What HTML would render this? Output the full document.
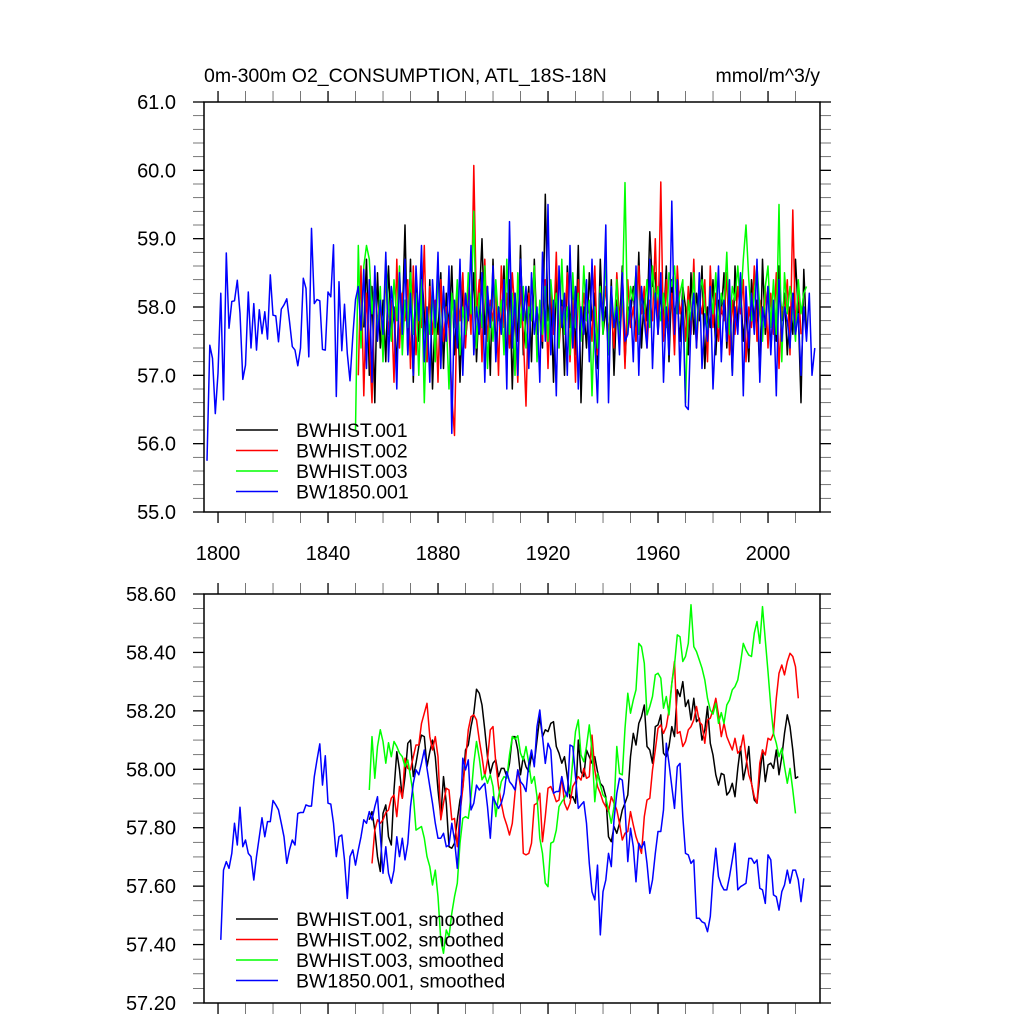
<!DOCTYPE html>
<html><head><meta charset="utf-8"><style>
html,body{margin:0;padding:0;background:#fff}
svg{display:block;font-family:"Liberation Sans",Arial,sans-serif}
</style></head><body>
<svg id="chart" width="1024" height="1024" viewBox="0 0 1024 1024">
<rect width="1024" height="1024" fill="#fff"/>
<text x="204" y="82" font-size="19.5">0m-300m O2_CONSUMPTION, ATL_18S-18N</text>
<text x="820" y="82" font-size="19.5" text-anchor="end">mmol/m^3/y</text>
<g id="top"></g>
<g id="bot"></g>
</svg>
<script>
// ---------- data ----------
const xTickYears = [1800,1840,1880,1920,1960,2000];
const topYTicks = [55,56,57,58,59,60,61];
const botYTicks = [57.2,57.4,57.6,57.8,58.0,58.2,58.4,58.6];
const seriesNames = ["BWHIST.001","BWHIST.002","BWHIST.003","BW1850.001"];
const seriesColors = ["#000","#f00","#0f0","#00f"];

const topBlackStart = 1853;
const topBlack = [57.7,58.7,57.0,58.3,56.6,58.5,57.4,58.1,57.2,58.6,
57.6,58.0,57.1,58.4,57.8,59.2,57.3,58.7,56.9,58.3,
57.5,58.6,57.9,57.2,58.4,56.8,58.0,57.6,58.5,57.1,
58.2,57.7,58.6,57.3,58.1,56.9,58.4,57.5,58.0,57.8,
58.5,57.2,58.1,59.0,57.6,58.3,57.0,58.7,57.4,58.0,
57.7,58.6,57.1,58.4,56.8,58.2,57.5,58.9,57.3,57.9,
58.3,57.2,58.7,57.6,58.0,57.4,59.65,57.8,58.2,56.9,
58.5,57.5,58.1,57.0,58.6,57.7,58.3,57.3,58.9,56.6,
58.0,57.4,58.5,57.8,58.2,57.1,58.7,57.6,58.0,57.3,
58.4,57.0,58.1,57.7,58.6,57.2,58.0,57.9,58.3,57.5,
58.8,57.4,58.2,57.8,59.1,58.3,58.5,57.6,58.2,57.7,
58.6,57.2,58.4,57.9,58.1,57.5,58.3,58.0,57.3,58.5,
57.6,58.2,57.8,58.6,57.1,58.0,57.7,58.4,57.3,58.1,
57.9,58.5,57.4,58.2,57.0,58.6,57.7,58.3,57.5,58.0,
57.2,58.4,57.8,58.1,57.0,58.7,57.6,58.3,57.4,58.0,
57.5,58.6,57.8,58.2,57.3,58.0,57.6,58.7,57.9,56.6,
58.55,57.6];
const topRedStart = 1851;
const topRed = [57.0,58.6,56.7,58.2,57.5,56.6,58.4,57.8,58.0,57.3,
58.5,57.6,58.1,56.9,58.7,57.4,58.2,57.8,58.4,57.1,
58.6,57.3,58.0,57.7,58.9,57.2,58.3,57.6,58.1,56.9,
58.4,57.5,58.0,57.7,56.7,56.12,58.2,57.8,58.5,57.4,
58.3,57.6,60.07,57.9,58.4,57.2,58.7,57.5,58.1,57.8,
58.3,57.0,58.6,57.7,58.2,57.4,58.5,57.9,56.9,58.3,
57.6,56.55,58.2,57.8,58.6,57.3,58.0,57.5,58.4,57.1,
58.3,57.6,58.8,57.4,58.0,57.7,58.5,57.2,58.1,56.9,
58.4,57.6,58.2,57.8,58.0,57.5,58.6,57.3,58.1,57.9,
58.3,57.6,58.0,57.4,58.5,57.8,58.2,57.1,58.4,57.7,
58.0,57.5,58.6,57.9,58.3,57.4,58.1,57.8,59.0,57.6,
59.83,57.5,58.4,57.8,58.2,57.3,58.6,57.9,58.1,57.5,
58.3,57.6,58.7,57.4,58.1,57.9,58.4,57.2,58.6,57.7,
58.2,57.5,58.0,57.8,58.5,57.3,58.1,57.6,58.3,57.9,
58.4,57.2,58.0,57.7,58.6,57.5,58.1,57.8,58.3,57.4,
58.2,57.6,58.5,57.1,58.0,57.9,58.4,57.3,59.42,57.7,
58.3,57.6];
const topGreenStart = 1850;
const topGreen = [56.2,58.9,57.4,58.6,58.9,58.7,57.9,58.4,57.6,58.3,
57.2,58.7,58.0,57.5,58.4,57.8,58.6,57.3,58.1,57.7,
58.5,57.6,58.2,57.0,58.4,56.6,58.0,57.6,58.3,57.2,
58.6,57.5,58.1,57.8,56.8,58.2,57.7,58.4,57.3,58.0,
57.6,58.5,57.9,59.4,57.4,58.2,57.7,58.6,57.1,58.0,
57.5,58.4,57.8,58.1,57.3,58.7,57.6,58.2,57.0,58.5,
57.7,58.3,57.4,58.0,57.8,58.6,57.2,58.1,57.6,58.3,
57.5,58.4,57.9,58.2,57.4,58.7,57.6,58.0,57.3,58.5,
57.7,58.2,57.5,58.6,57.8,58.1,56.7,58.0,57.4,58.3,
57.6,58.8,57.3,58.2,57.7,58.4,57.5,58.1,59.82,57.6,
58.3,58.1,58.5,57.6,58.2,57.9,58.4,57.7,58.6,58.0,
58.3,57.8,58.2,57.7,58.5,58.3,58.6,57.9,58.2,58.4,
56.6,58.1,57.8,58.5,57.5,58.2,58.4,58.0,57.6,58.3,
57.9,58.5,57.7,58.2,58.0,58.8,57.6,58.3,58.1,58.6,
58.0,58.7,59.2,58.4,57.8,58.2,58.6,58.0,57.5,58.3,
58.6,57.7,58.4,57.6,59.5,57.2,58.5,57.9,58.3,58.0,
57.5,58.4,57.9,58.2,58.3];
const topBlueStart = 1796;
const topBlue = [55.75,57.44,57.25,56.44,57.03,58.20,56.64,58.79,57.69,58.08,
58.09,58.39,57.91,56.94,57.15,58.22,57.40,58.05,57.37,57.96,
57.61,57.93,57.53,58.47,57.88,57.87,57.49,57.97,58.03,58.12,
57.79,57.42,57.37,57.14,57.40,58.42,58.27,57.27,59.15,58.05,
58.11,58.09,57.38,57.37,58.22,58.15,58.91,56.69,58.37,57.36,
58.04,57.32,56.92,57.57,58.11,58.30,57.66,
58.55,57.1,58.4,56.9,58.6,57.5,58.1,57.6,58.8,57.2,
58.3,57.9,56.8,58.5,57.6,58.7,57.3,58.2,57.0,58.6,
57.8,58.9,57.2,58.0,56.9,58.4,57.7,58.8,57.1,58.3,
57.5,58.6,56.15,58.1,57.4,58.7,57.0,58.2,57.8,58.9,
57.3,58.0,57.6,58.5,56.9,58.3,57.7,58.6,57.2,58.0,
57.6,58.4,56.8,59.25,57.4,58.2,57.0,58.7,57.8,58.3,
57.1,58.5,57.6,58.0,56.9,58.8,57.5,59.5,57.3,58.1,
56.7,58.6,57.7,58.2,57.0,58.9,57.4,58.3,56.8,58.0,
57.6,58.4,57.2,58.7,57.5,56.6,58.2,57.8,59.2,56.6,
58.3,57.7,58.0,57.3,58.5,57.5,57.6,58.1,57.2,58.6,
57.0,58.3,57.8,57.4,58.7,57.1,58.2,57.6,58.5,56.9,
58.0,57.3,59.55,57.6,58.4,57.0,58.1,56.55,56.5,57.8,
58.2,57.4,58.5,57.1,57.9,57.5,58.3,56.8,57.7,58.6,
57.2,58.1,57.5,58.4,57.0,58.0,57.6,58.5,56.7,58.3,
57.4,58.2,57.6,58.7,56.9,58.0,57.7,58.3,57.3,58.1,
56.7,58.4,57.5,58.0,57.8,57.4,58.2,57.6,57.9,57.0,
58.0,57.5,58.2,57.0,57.4];

const botBlackStart = 1855;
const botBlack = [57.827,57.855,57.792,57.701,57.650,57.849,57.878,57.769,57.741,57.929,
58.060,57.998,57.901,57.975,58.089,58.100,57.975,58.021,58.078,58.117,
58.112,58.009,58.060,58.100,58.043,57.929,57.838,57.975,57.884,57.735,
57.730,57.747,57.827,57.895,57.935,58.066,58.083,58.146,58.192,58.274,
58.260,58.220,58.135,58.043,57.986,58.021,58.032,57.975,58.003,58.003,
57.975,58.021,58.112,58.112,58.066,57.981,
58.043,58.009,57.992,58.049,58.021,58.100,58.180,58.112,58.135,58.129,
58.157,58.163,58.078,58.055,58.021,58.043,57.975,57.901,57.906,57.884,
58.100,57.992,57.975,58.066,58.043,58.021,58.043,57.992,57.952,57.941,
57.906,57.769,57.752,57.804,57.781,57.815,57.861,57.884,57.912,58.043,
58.123,58.083,58.157,58.180,58.220,58.078,58.066,58.021,58.146,58.152,
58.186,58.055,58.043,58.078,58.146,58.112,58.272,58.249,58.300,58.215,
58.237,58.169,58.243,58.163,58.175,58.100,58.135,58.215,58.089,58.049,
57.981,57.946,57.986,57.981,57.912,57.924,57.952,57.906,58.003,58.078,
57.964,58.009,58.078,57.952,57.895,57.884,57.975,58.066,57.958,58.015,
58.021,58.003,58.066,57.981,58.043,58.123,58.186,58.146,58.066,57.969,57.975];
const botRedStart = 1856;
const botRed = [57.678,57.792,57.827,57.815,57.827,57.852,57.861,57.901,57.912,57.838,
57.941,57.901,58.038,58.003,57.998,58.043,58.083,58.083,58.157,58.192,
58.226,58.112,58.066,58.112,58.043,57.827,57.884,57.935,57.929,57.827,
57.832,57.735,57.849,57.935,58.032,58.135,58.180,58.186,58.169,58.100,
58.043,57.975,58.032,58.135,58.146,58.021,57.941,57.884,57.838,57.809,
57.775,57.815,57.918,57.998,57.941,
57.712,57.707,57.712,57.747,57.878,57.884,57.918,57.752,57.838,57.935,
57.941,57.918,57.889,57.895,57.975,57.884,57.861,57.884,57.941,
57.958,57.975,57.963,58.003,57.969,57.975,58.117,57.998,57.941,57.918,
57.889,57.872,57.855,57.906,57.884,57.861,57.815,57.758,57.781,
57.787,57.855,57.809,57.769,57.741,57.712,57.838,57.895,57.901,57.998,
58.066,58.140,58.152,58.123,58.146,58.203,58.294,58.369,58.123,58.129,
58.078,58.095,58.135,58.146,58.169,58.215,58.163,58.152,58.089,
58.169,58.175,58.203,58.243,58.186,58.112,58.157,58.112,58.089,58.066,
58.106,58.055,58.066,58.117,58.043,57.981,57.952,57.906,57.884,58.021,
58.066,58.049,58.106,58.100,58.123,58.243,58.329,58.357,58.323,58.369,
58.397,58.386,58.351,58.243];
const botGreenStart = 1855;
const botGreen = [57.929,58.112,57.969,58.078,58.135,58.095,58.021,58.091,58.043,58.095,
58.078,58.055,58.043,58.009,58.032,57.975,57.912,57.792,57.798,57.804,
57.764,57.701,57.667,57.604,57.655,57.564,57.416,57.370,57.450,57.427,
57.507,57.564,57.610,57.747,57.832,57.838,57.832,57.906,58.021,58.095,
58.038,57.964,57.981,57.952,57.981,57.941,57.838,57.906,57.958,57.975,
57.969,58.049,58.112,58.103,58.115,58.055,
58.032,58.078,58.021,57.952,57.975,57.906,57.764,57.712,57.610,57.598,
57.747,57.752,57.792,57.872,57.889,57.901,57.924,57.918,58.032,58.129,
58.169,58.049,58.026,58.078,58.152,58.066,57.889,57.986,57.946,57.912,
57.901,57.861,57.815,57.872,58.078,57.986,57.981,58.140,58.260,58.192,
58.237,58.272,58.431,58.420,58.363,58.186,58.215,58.249,58.323,58.329,
58.312,58.209,58.249,58.186,58.294,58.357,58.460,58.454,58.369,
58.386,58.431,58.563,58.420,58.403,58.374,58.346,58.306,58.243,
58.203,58.189,58.226,58.157,58.194,58.157,58.220,58.237,58.272,
58.283,58.306,58.363,58.431,58.408,58.391,58.386,58.466,58.506,
58.431,58.557,58.443,58.334,58.215,58.123,58.089,58.043,58.072,58.009,
57.952,58.003,57.929,57.849];
const botBlueStart = 1801;
const botBlue = [57.416,57.655,57.684,57.661,57.712,57.815,57.741,57.870,57.735,57.758,
57.712,57.701,57.621,57.701,57.769,57.834,57.769,57.821,57.821,57.893,57.878,
57.861,57.815,57.769,57.678,57.724,57.758,57.741,57.849,57.852,57.852,57.878,
57.874,57.874,57.975,58.032,58.087,57.946,58.046,57.884,57.881,57.815,57.701,
57.769,57.775,57.690,57.558,57.701,57.724,57.672,57.724,57.769,57.827,
57.815,57.855,57.827,57.872,57.906,57.775,57.644,57.735,57.644,57.610,
57.655,57.769,57.701,57.764,57.690,57.747,57.872,57.952,57.998,57.981,
58.021,58.066,58.003,57.941,57.884,57.815,57.764,57.764,57.781,57.735,
57.741,57.815,57.758,57.661,57.815,58.038,57.998,58.032,57.861,57.884,
57.946,57.929,57.941,57.952,57.872,57.764,57.906,57.884,57.866,57.884,
57.918,57.992,57.958,57.946,57.929,57.998,57.958,57.946,57.924,58.020,
58.066,58.009,58.146,58.203,58.112,58.020,58.089,58.066,57.918,57.924,
57.924,57.975,57.929,57.906,58.083,58.078,57.975,57.866,57.878,57.889,
57.815,57.678,57.581,57.553,57.672,57.433,57.581,57.621,57.712,57.667,
57.827,57.918,57.969,57.963,57.872,57.684,57.798,57.735,57.615,57.747,
57.730,57.752,57.678,57.575,57.621,57.712,57.787,57.787,57.861,58.089,
58.020,57.941,57.866,58.009,58.020,57.838,57.712,57.707,57.678,57.690,
57.490,57.490,57.478,57.473,57.444,57.496,57.633,57.730,57.633,57.604,
57.587,57.587,57.633,57.690,57.747,57.587,57.598,57.604,57.610,57.695,
57.695,57.678,57.690,57.593,57.587,57.541,57.707,57.690,57.570,57.564,
57.518,57.581,57.604,57.655,57.610,57.655,57.655,57.621,57.547,57.627];

// ---------- drawing ----------
const NS = "http://www.w3.org/2000/svg";
const L = 204, R = 820;
const X0 = 1794.9, X1 = 2018.9;
function xs(yr){ return L + (yr - X0) / (X1 - X0) * (R - L); }
function mk(tag, attrs, parent){
  const e = document.createElementNS(NS, tag);
  for (const k in attrs) e.setAttribute(k, attrs[k]);
  parent.appendChild(e);
  return e;
}
function panel(g, T, B, ymin, ymax, yMajor, nMinor, fmt, showX, series, legendY, suffix){
  const ys = v => B - (v - ymin) / (ymax - ymin) * (B - T);
  const tl = 11;
  for (let yr = 1800; yr <= 2010; yr += 10){
    const x = xs(yr), major = (yr % 40 === 0);
    const sw = major ? 1.3 : 0.8, col = major ? "#000" : "#555";
    const t1 = mk("line",{x1:x,x2:x,y1:B,y2:B+tl,stroke:col,"stroke-width":sw},g);
    
    
    const t2 = mk("line",{x1:x,x2:x,y1:T,y2:T-tl,stroke:col,"stroke-width":sw},g);
    
    
  }
  if (showX){
    xTickYears.forEach(yr=>{
      const t = mk("text",{x:xs(yr),y:B+48,"font-size":20,"text-anchor":"middle"},g);
      t.textContent = yr;
      
      
    });
  }
  const step = yMajor / (nMinor + 1);
  const n = Math.round((ymax - ymin) / step);
  for (let i = 0; i <= n; i++){
    const v = ymin + i * step, y = ys(v), major = (i % (nMinor + 1) === 0);
    const sw = major ? 1.3 : 0.8, col = major ? "#000" : "#555";
    const a = mk("line",{x1:L-tl,x2:L,y1:y,y2:y,stroke:col,"stroke-width":sw},g);
    
    
    const b = mk("line",{x1:R,x2:R+tl,y1:y,y2:y,stroke:col,"stroke-width":sw},g);
    
    
  }
  const ticks = (ymax - ymin > 2) ? topYTicks : botYTicks;
  ticks.forEach(v=>{
    const t = mk("text",{x:176,y:ys(v)+7,"font-size":20,"text-anchor":"end"},g);
    t.textContent = v.toFixed(fmt);
    
    
  });
  series.forEach((s, si)=>{
    const pts = s.vals.map((v,i)=> xs(s.start + i).toFixed(1) + "," + ys(v).toFixed(1)).join(" ");
    const p = mk("polyline",{points:pts,fill:"none",stroke:seriesColors[si],"stroke-width":1.5,"stroke-linejoin":"round"},g);
    
    
  });
  const fr = mk("rect",{x:L,y:T,width:R-L,height:B-T,fill:"none",stroke:"#000","stroke-width":1.5},g);
  
  
  seriesNames.forEach((nm, si)=>{
    const y = legendY + si * 20.5;
    const ln = mk("line",{x1:236,x2:278,y1:y,y2:y,stroke:seriesColors[si],"stroke-width":1.5},g);
    
    
    const t = mk("text",{x:296,y:y+7,"font-size":19.5},g);
    t.textContent = nm + suffix;
    
    
  });
}
panel(document.getElementById("top"), 102, 512, 55, 61, 1, 4, 1, true, [
  {start:topBlackStart, vals:topBlack},
  {start:topRedStart, vals:topRed},
  {start:topGreenStart, vals:topGreen},
  {start:topBlueStart, vals:topBlue}
], 430, "");
panel(document.getElementById("bot"), 594, 1003, 57.2, 58.6, 0.2, 3, 2, false, [
  {start:botBlackStart, vals:botBlack},
  {start:botRedStart, vals:botRed},
  {start:botGreenStart, vals:botGreen},
  {start:botBlueStart, vals:botBlue}
], 919, ", smoothed");
</script>
</body></html>
